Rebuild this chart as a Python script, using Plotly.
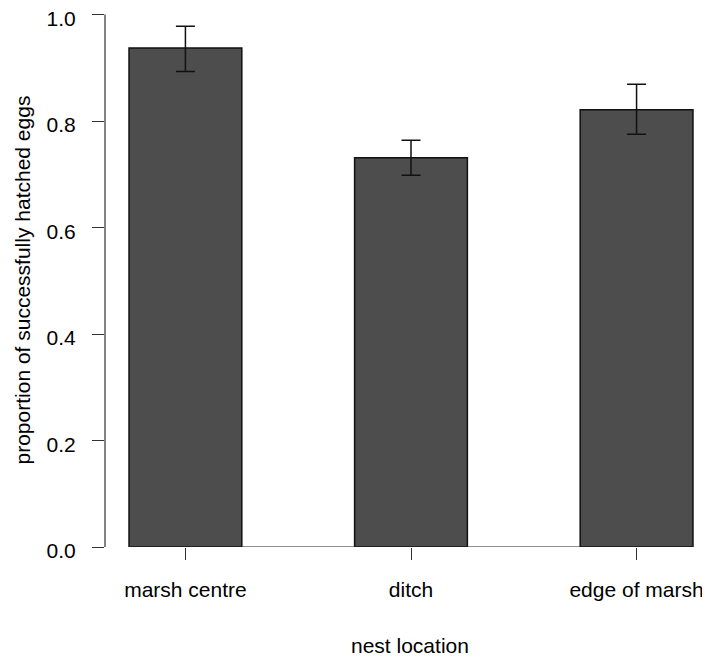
import plotly.graph_objects as go

categories = ["marsh centre", "ditch", "edge of marsh"]
proportions = [0.937, 0.731, 0.821]
err_plus = [0.041, 0.033, 0.048]
err_minus = [0.044, 0.033, 0.046]
y_ticks = [0.0, 0.2, 0.4, 0.6, 0.8, 1.0]
y_tick_labels = ["0.0", "0.2", "0.4", "0.6", "0.8", "1.0"]

# R barplot layout: width 1, space 1
positions = [1.5 + 2.0 * i for i in range(len(categories))]

FONT = "Liberation Sans, Arial, Helvetica, sans-serif"
FS = 21

# page body has an 8px margin, so the figure is 8px smaller than the window
W, H = 702, 651
ML, MT = 97, 6
PLOT_W = W - ML
PLOT_H = 533
Y_TOP = 1.001

fig = go.Figure()
fig.add_trace(go.Bar(
    x=positions,
    y=proportions,
    width=1.0,
    marker=dict(color="#4D4D4D", line=dict(color="#111111", width=1.5)),
    error_y=dict(type="data", array=err_plus, arrayminus=err_minus,
                 symmetric=False, color="#111111", thickness=1.5, width=9.5),
    showlegend=False,
    hoverinfo="skip",
))

# baseline from first bar's left edge to last bar's right edge
fig.add_shape(type="line", xref="x", yref="y",
              x0=positions[0] - 0.5, x1=positions[-1] + 0.5, y0=0, y1=0,
              line=dict(color="#222222", width=1.2), layer="above")

fig.update_layout(
    width=W, height=H,
    margin=dict(l=ML, r=0, t=MT, b=H - MT - PLOT_H, pad=0, autoexpand=False),
    plot_bgcolor="white", paper_bgcolor="white",
    font=dict(family=FONT, size=FS, color="black"),
    xaxis=dict(range=[0.787, 6.151], showgrid=False, zeroline=False,
               showline=False, tickmode="array", tickvals=positions,
               ticktext=categories, ticks="outside", ticklen=12,
               tickcolor="#333333", tickwidth=1.2, automargin=False,
               tickfont=dict(family=FONT, size=FS, color="black"),
               ticklabelstandoff=12, ticklabeloverflow="allow"),
    yaxis=dict(range=[0, Y_TOP], showgrid=False, zeroline=False,
               showline=False, automargin=False,
               tickmode="array", tickvals=y_ticks, ticktext=y_tick_labels,
               ticks="outside", ticklen=12, tickcolor="#333333", tickwidth=1.2,
               tickfont=dict(family=FONT, size=FS, color="black"),
               ticklabelstandoff=12, ticklabelshift=4,
               ticklabeloverflow="allow"),
    annotations=[
        dict(text="nest location", xref="paper", yref="paper",
             x=(410 - 8 - ML) / PLOT_W, y=(539 - 637) / PLOT_H,
             xanchor="center", yanchor="middle", showarrow=False,
             font=dict(family=FONT, size=FS, color="black")),
        dict(text="proportion of successfully hatched eggs", xref="paper", yref="paper",
             x=(22 - 8 - ML) / PLOT_W, y=0.5, textangle=-90,
             xanchor="center", yanchor="middle", showarrow=False,
             font=dict(family=FONT, size=FS, color="black")),
    ],
)

# y axis line from 0 to 1 (as R's axis() draws it)
fig.add_shape(type="line", xref="paper", yref="y",
              x0=0, x1=0, y0=y_ticks[0], y1=y_ticks[-1],
              line=dict(color="#333333", width=1.2), layer="above")

fig.write_html("out.html")
